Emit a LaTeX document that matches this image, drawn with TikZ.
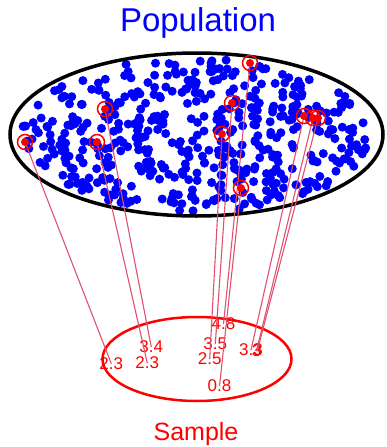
\documentclass[tikz,border=0pt]{standalone}
\usepackage{fontspec}
\setmainfont{Liberation Sans}
\definecolor{linkc}{RGB}{225,80,110}
\definecolor{pblue}{RGB}{0,0,255}
\definecolor{pred}{RGB}{255,0,0}
\tikzset{
  popdot/.style={fill=pblue},
  selring/.style={draw=pred,line width=1.5pt},
  seldot/.style={fill=pred},
  link/.style={draw=linkc,line width=1.1pt},
  numlab/.style={text=pred,font=\fontsize{17}{17}\selectfont,inner sep=0pt},
}
\begin{document}
\begin{tikzpicture}[x=1pt,y=-1pt]
\useasboundingbox (0,0) rectangle (386,447);
% population dots
\pgfmathsetseed{12345}
\foreach \i in {1,...,470}{
  \pgfmathsetmacro\rr{sqrt(rnd)}
  \pgfmathsetmacro\tt{360*rnd}
  \fill[popdot] ({196.5+175*\rr*cos(\tt)},{134.5+77*\rr*sin(\tt)}) circle (4.5pt);
}
% population ellipse
\draw[line width=3.5pt,black] (196.5,134.5) ellipse [x radius=186.5pt, y radius=81.5pt];
\node[text=pblue,font=\fontsize{33}{33}\selectfont,anchor=base] (poptitle) at (198,31) {Population};
% sample ellipse
\draw[pred,line width=2.5pt] (197,359) ellipse [x radius=94.5pt, y radius=42pt];
\node[text=pred,font=\fontsize{25}{25}\selectfont,anchor=base] (samptitle) at (196,440) {Sample};
% selected points
\foreach \n/\px/\py in {p1/25/142, p2/105/109, p3/97/142, p4/250/63, p5/232/103, p6/222/134, p7/241/188, p8/304/116, p9/313/118, p10/318/118}{
  \coordinate (\n) at (\px,\py);
}
% labels
\node[numlab] (l1) at (111.3,363.7) {2.3};
\node[numlab] (l2) at (151.3,347) {3.4};
\node[numlab] (l3) at (147.3,363) {2.3};
\node[numlab] (l4) at (223.5,324) {4.8};
\node[numlab] (l5) at (215.3,344) {3.5};
\node[numlab] (l6) at (209.7,359) {2.5};
\node[numlab] (l7) at (219.5,386) {0.8};
\node[numlab] (l8) at (251,350) {3.3};
\node[numlab] (l9) at (256.5,351) {3};
\node[numlab] (l10) at (257.5,350) {3};
% links
\foreach \k in {1,...,10}{
  \draw[link] (p\k) -- (l\k.center);
}
% selected markers
\foreach \k in {1,...,10}{
  \fill[seldot] (p\k) circle (4pt);
  \draw[selring] (p\k) circle (7.5pt);
}
\end{tikzpicture}
\end{document}
